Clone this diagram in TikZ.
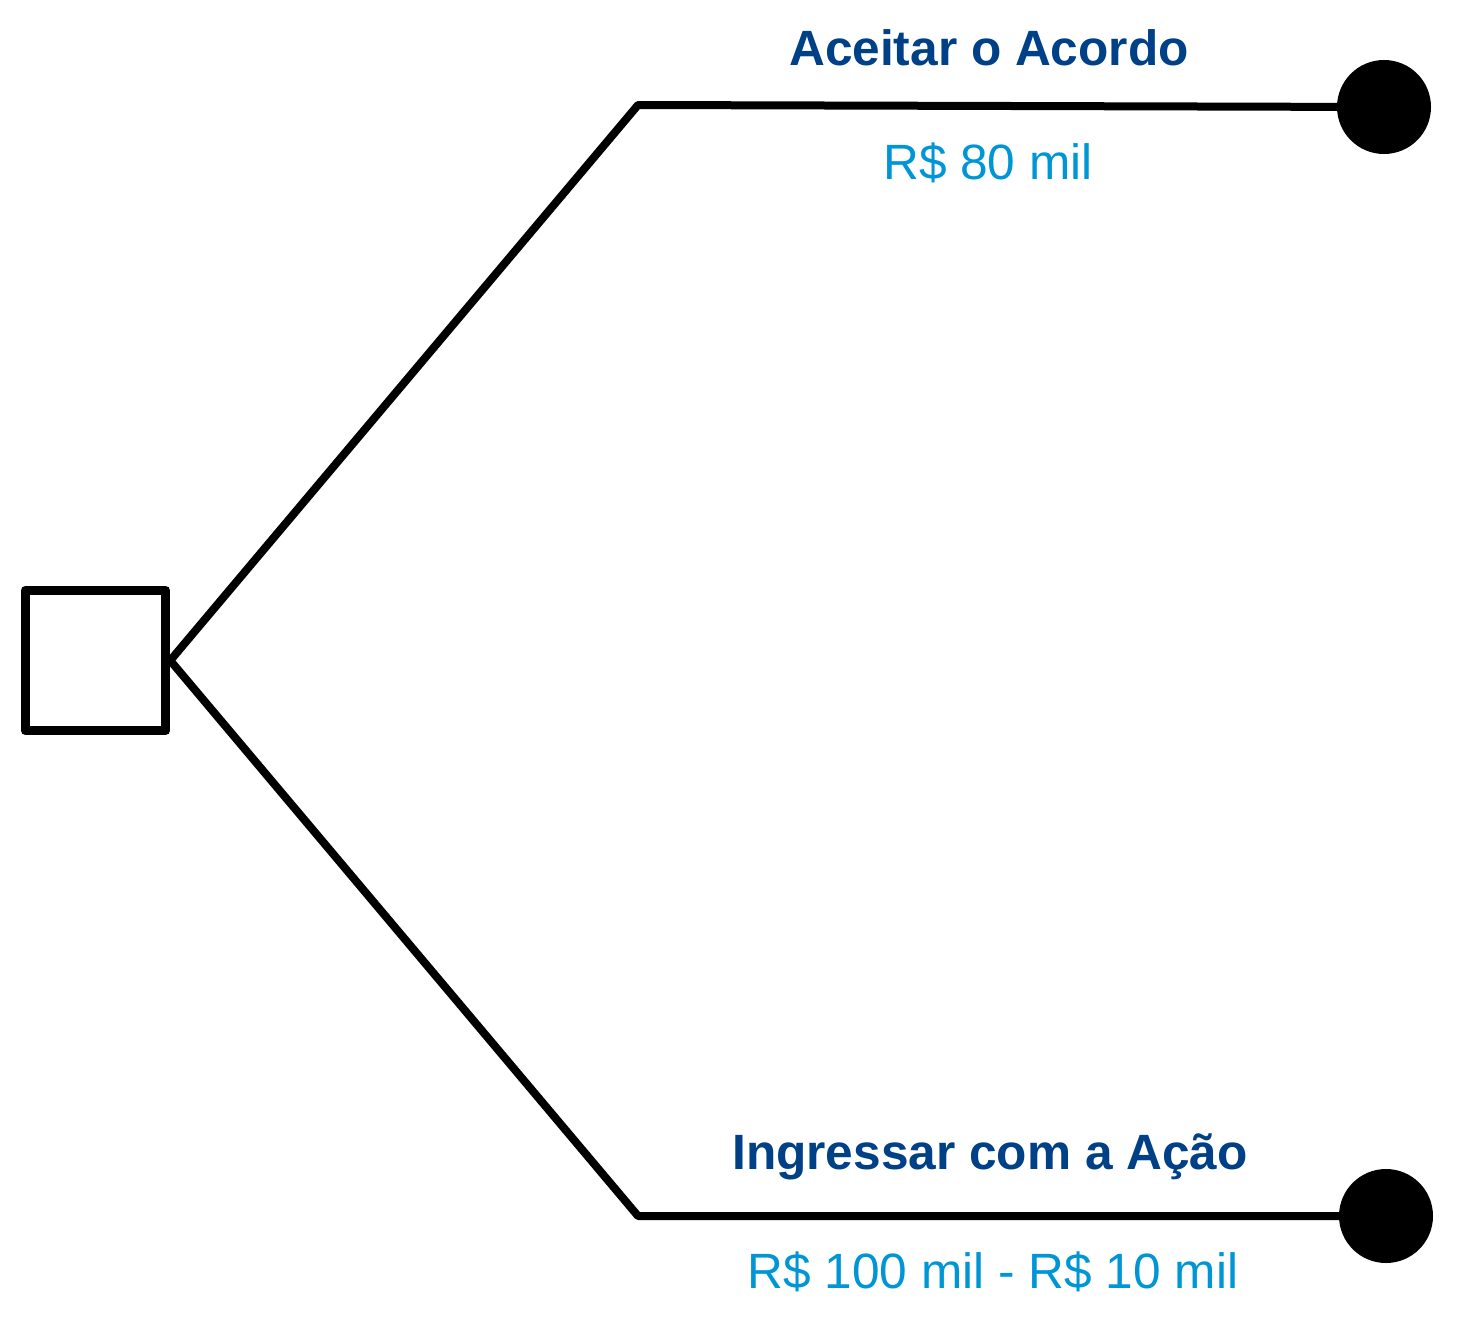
\documentclass[tikz,border=0pt]{standalone}
\usepackage{fontspec}
\setmainfont{Liberation Sans}
\definecolor{darkblue}{RGB}{0,64,135}
\definecolor{lightblue}{RGB}{0,150,214}
\begin{document}
\begin{tikzpicture}[x=1pt,y=-1pt,
  branch/.style={line width=8pt, line cap=round, line join=round},
  decision/.style={draw, line width=9pt, line join=round, minimum size=140.5pt, inner sep=0pt},
  endnode/.style={circle, fill=black, minimum size=94pt, inner sep=0pt},
  title/.style={text=darkblue, font=\bfseries\fontsize{49.6}{54}\selectfont, inner sep=0pt},
  value/.style={text=lightblue, font=\fontsize{49.6}{54}\selectfont, inner sep=0pt}]
\useasboundingbox (0,0) rectangle (1461,1330);
\node[decision] (d) at (95.5,660.5) {};
\coordinate (j1) at (638,105);
\coordinate (j2) at (638,1216);
\node[endnode] (e1) at (1384,107) {};
\node[endnode] (e2) at (1386,1216) {};
\draw[branch] (d.east) -- (j1) -- (e1.center);
\draw[branch] (d.east) -- (j2) -- (e2.center);
\node[title] (t1) at (989,48) {Aceitar o Acordo};
\node[value] (v1) at (988,163) {R\$ 80 mil};
\node[title] (t2) at (990,1157) {Ingressar com a Ação};
\node[value] (v2) at (993,1272) {R\$ 100 mil - R\$ 10 mil};
\end{tikzpicture}
\end{document}
